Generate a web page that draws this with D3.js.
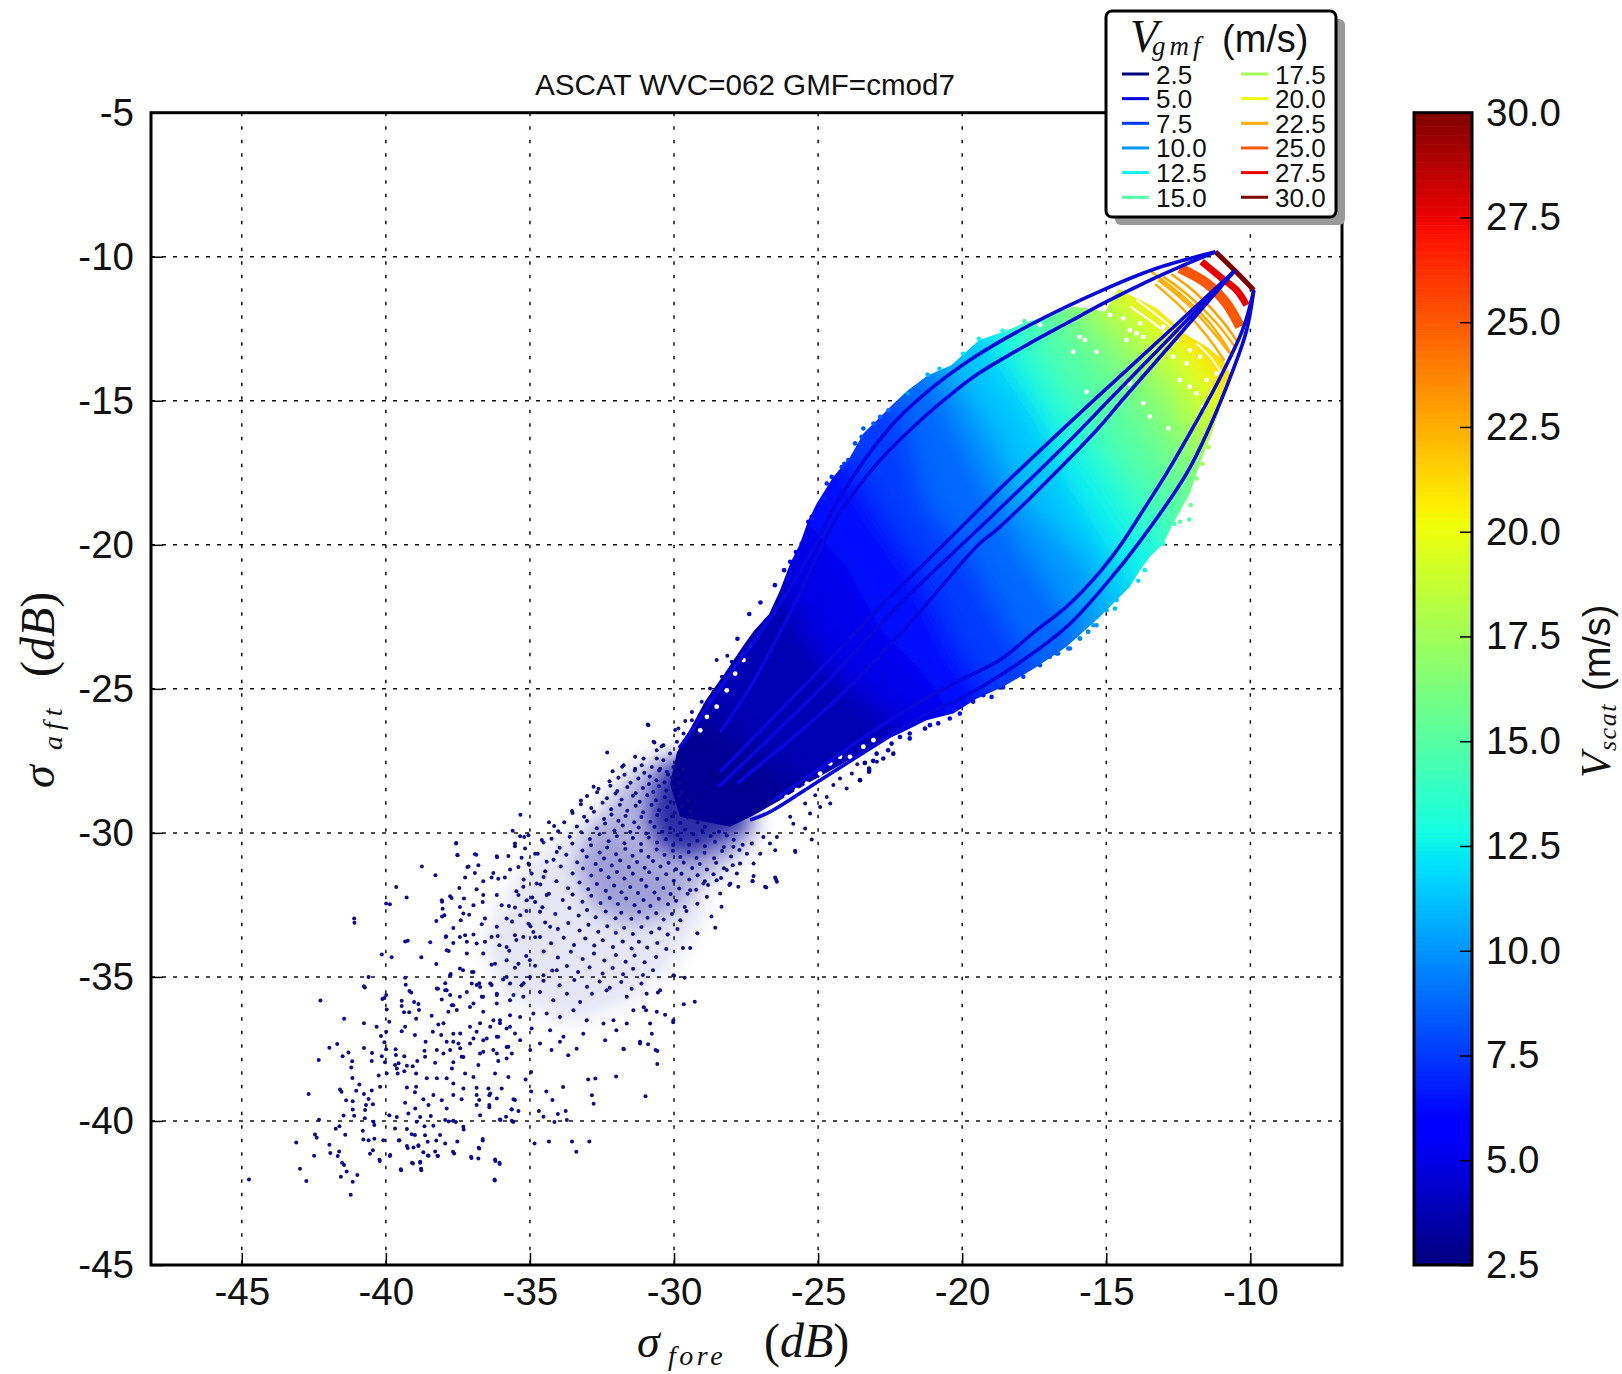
<!DOCTYPE html>
<html><head><meta charset="utf-8">
<script src="https://cdn.jsdelivr.net/npm/d3@7"></script>
<style>html,body{margin:0;padding:0;background:#fff}svg{display:block}</style></head>
<body><div id="chart"></div>
<script>
const chartTitle = "ASCAT WVC=062 GMF=cmod7";
const xTicks = [-45,-40,-35,-30,-25,-20,-15,-10];
const yTicks = [-5,-10,-15,-20,-25,-30,-35,-40,-45];
const cbarTicks = [2.5,5,7.5,10,12.5,15,17.5,20,22.5,25,27.5,30];
const legendSpeeds = [2.5,5,7.5,10,12.5,15,17.5,20,22.5,25,27.5,30];

// Filled body of the scatter cloud (sigma fore, sigma aft in dB)
const cloudOutline = [[-29.9,-27.2],[-29.5,-26.5],[-28.9,-25.4],[-28.2,-24.4],[-27.6,-23.5],[-27.24,-23.0],[-26.7,-22.4],[-26.32,-21.58],[-25.97,-20.65],[-25.63,-19.96],[-25.34,-19.15],[-25.05,-18.57],[-24.47,-17.64],[-23.89,-16.95],[-23.43,-16.14],[-22.85,-15.56],[-22.39,-15.1],[-21.89,-14.64],[-21.2,-14.12],[-20.38,-13.77],[-19.42,-12.9],[-18.46,-12.56],[-17.77,-12.27],[-16.81,-11.98],[-16.15,-11.73],[-15.68,-11.79],[-15.05,-11.91],[-14.58,-11.1],[-14.18,-11.33],[-13.25,-11.79],[-12.79,-12.2],[-12.21,-12.72],[-11.52,-13.12],[-10.94,-13.59],[-10.71,-14.05],[-10.94,-14.63],[-11.1,-15.4],[-11.29,-16.02],[-11.75,-17.18],[-12.1,-18.22],[-12.68,-19.26],[-13.02,-19.96],[-13.49,-20.42],[-13.83,-20.88],[-14.18,-21.46],[-14.64,-21.92],[-15.22,-22.5],[-16.38,-23.54],[-17.42,-24.24],[-18.58,-24.93],[-19.5,-25.34],[-20.31,-25.86],[-21.24,-26.09],[-22.16,-26.55],[-22.97,-26.9],[-23.55,-27.25],[-24.35,-27.71],[-25.39,-28.29],[-26.32,-28.87],[-27.24,-29.39],[-28.05,-29.79],[-29.79,-29.44],[-30.14,-28.29]];

// Speed contours: level in m/s and its path
const isoLevels = [3.75,5,6.25,7.5,8.75,10,11.25,12.5,13.75,15,16.25,17.5,18.75,20,21.25];
const iso375 = [[-29.5,-25.5],[-28.2,-26.3],[-27,-27.3],[-25.5,-28.3],[-24.8,-29]];
const iso500 = [[-26.6,-20.8],[-26.2,-21.2],[-25.5,-22.8],[-24.5,-24.4],[-23,-25.5],[-22,-26.5],[-21.8,-27.2]];
const iso625 = [[-25.7,-18.7],[-25.3,-19.3],[-24,-20.8],[-22.8,-23],[-21.5,-24.3],[-20.8,-25.2],[-20.4,-26.2]];
const iso750 = [[-24.4,-16.6],[-23.6,-17.6],[-22.9,-18.8],[-21.5,-20.8],[-20.2,-23.5],[-19.4,-24.6],[-19,-25.6]];
const iso875 = [[-22.6,-14.8],[-22.1,-15.4],[-21.3,-18.45],[-19.6,-20.6],[-18.5,-22.7],[-17.7,-23.9],[-17.3,-24.7]];
const iso1000 = [[-21.5,-13.9],[-20.8,-14.6],[-19.5,-17.2],[-18,-19.9],[-16.7,-21.8],[-15.9,-23.3],[-15.5,-23.9]];
const iso1125 = [[-20.7,-13.4],[-20.2,-14.1],[-18.8,-16.2],[-17.8,-18.4],[-15.6,-20.7],[-15.1,-22.4],[-14.6,-23]];
const iso1250 = [[-19.4,-12.7],[-19,-13.3],[-17.3,-15.8],[-16.25,-18.1],[-14.6,-20.6],[-13.9,-21.8],[-13.6,-22.3]];
const iso1375 = [[-18.6,-12.3],[-18.3,-13],[-16.66,-15.62],[-15.29,-17.36],[-13.5,-20.13],[-13,-20.7]];
const iso1500 = [[-17.6,-11.8],[-17.4,-12.5],[-15.97,-14.81],[-14.74,-16.66],[-12.81,-19.21],[-12.3,-19.7]];
const iso1625 = [[-16.7,-11.4],[-16.5,-12.1],[-15.01,-13.88],[-13.78,-15.74],[-12.26,-18.05],[-11.7,-18.6]];
const iso1750 = [[-16,-11.4],[-15.8,-11.84],[-14.29,-13.4],[-13.05,-14.91],[-11.95,-16.99],[-11.4,-17.5]];
const iso1875 = [[-15.4,-11.1],[-15.2,-11.55],[-13.9,-12.83],[-12.7,-14.22],[-11.8,-15.95],[-11.3,-16.5]];
const iso2000 = [[-14.6,-10.9],[-14.43,-11.32],[-13.3,-12.48],[-12.1,-13.87],[-11.3,-15.14],[-10.7,-15.7]];
const iso2125 = [[-13.9,-11.4],[-12.9,-12.2],[-11.8,-13.4],[-11.1,-14.3],[-10.7,-14.9]];
const isoPaths = [iso375,iso500,iso625,iso750,iso875,iso1000,iso1125,iso1250,iso1375,iso1500,iso1625,iso1750,iso1875,iso2000,iso2125];
const cloudBaseSpeed = 3;

// Bright arcs at the high speed end
const arc225a = [[-13.43,-10.52],[-12.33,-11.39],[-11.4,-12.31],[-10.6,-13.47]];
const arc225b = [[-13.02,-10.69],[-12.1,-11.39],[-11.17,-12.31],[-10.54,-13.12]];
const arc225c = [[-13.2,-10.81],[-12.21,-11.62],[-11.35,-12.55],[-10.71,-13.36]];
const arc225d = [[-13.3,-10.95],[-12.35,-11.8],[-11.55,-12.7],[-10.9,-13.6]];
const arc225e = [[-12.75,-10.6],[-11.9,-11.25],[-11,-12.2],[-10.45,-12.95]];
const arc25 = [[-12.45,-10.4],[-11.52,-10.92],[-10.83,-11.62],[-10.36,-12.43]];
const arc275 = [[-11.69,-10.17],[-11.06,-10.69],[-10.48,-11.16],[-10.13,-11.68]];
const arc30 = [[-11.21,-9.83],[-10.54,-10.48],[-9.88,-11.16]];

// GMF direction curves
const curveUpperOuter = [[-11.21,-9.83],[-13.25,-10.4],[-14.99,-11.1],[-17.65,-12.37],[-19.6,-13.5],[-21.29,-14.75],[-22.5,-15.91],[-24.24,-18.34],[-25.1,-20],[-26.1,-21.7],[-27.24,-23.37],[-28.05,-24.47],[-29.38,-26.43],[-29.8,-27.03]];
const curveUpperInner = [[-11.21,-9.83],[-12.45,-10.35],[-13.6,-10.87],[-14.99,-11.56],[-16.38,-12.31],[-17.65,-13.0],[-19.5,-14.1],[-20.54,-14.9],[-21.69,-15.9],[-22.85,-17.06],[-23.78,-18.22],[-24.47,-19.26],[-24.99,-20.3],[-25.74,-21.9],[-26.56,-23.5],[-27.39,-25.0],[-28.4,-26.5]];
const curveLowerOuter = [[-9.88,-11.16],[-10.13,-12.55],[-10.6,-13.93],[-11.46,-16.02],[-12.21,-17.52],[-13.89,-19.96],[-15.0,-21.35],[-16.38,-22.85],[-18.58,-24.47],[-20.08,-25.35],[-21.4,-25.95],[-22.85,-26.85],[-24.93,-28.17],[-26.67,-29.27],[-27.36,-29.55]];
const curveLowerInner = [[-9.88,-11.16],[-10.25,-12.49],[-11.05,-14.2],[-12.04,-16.02],[-12.91,-17.52],[-13.72,-18.8],[-14.47,-19.96],[-15.22,-20.94],[-16.38,-22.15],[-17.42,-22.96],[-18.69,-24.0],[-20.08,-24.7],[-21.2,-25.3],[-23,-26.4],[-25,-27.8],[-26.6,-28.9]];
const curveCentreA = [[-10.54,-10.48],[-13,-12.75],[-15.43,-14.98],[-16.55,-16.02],[-18.69,-18.05],[-20.65,-20],[-22.85,-22.16],[-25,-24.4],[-28.4,-27.88]];
const curveCentreB = [[-10.54,-10.48],[-12.8,-12.82],[-14.91,-14.98],[-15.91,-16.02],[-18.69,-18.74],[-20.02,-20],[-22.27,-22.16],[-24.93,-25],[-28.46,-28.4]];
const curveCentreC = [[-10.54,-10.48],[-12.5,-12.75],[-14.45,-14.98],[-15.34,-16.02],[-18.69,-19.38],[-19.44,-20],[-21.93,-22.85],[-24.4,-25.4],[-27.82,-28.29]];

// Blank specks inside the cloud
const blankSpecks = [[-13.95,-12.66],[-13.72,-12.78],[-14.18,-12.55],[-15.92,-12.78],[-15.74,-12.89],[-15.34,-13.3],[-16.15,-13.3],[-14.87,-12.02],[-14.41,-12.14],[-13.49,-11.33],[-12.68,-13.47],[-12.1,-13.24],[-12.45,-14.28],[-12.1,-14.51],[-14.18,-14.4],[-13.72,-15.09],[-13.49,-15.55],[-12.85,-15.96],[-11.64,-15.21],[-11.4,-12.66],[-11.75,-13.47],[-13.02,-12.43],[-12.56,-12.89],[-12.21,-13.7],[-11.52,-14.28],[-11.17,-14.05],[-11.87,-14.74],[-15.68,-14.69],[-17.3,-12.37],[-13.25,-13.24],[-13.83,-12.31],[-14.3,-12.89],[-24.24,-27.36],[-23.89,-27.36],[-23.43,-27.01],[-23.08,-26.78],[-24.93,-27.94],[-25.39,-28.29],[-26.09,-28.75],[-25.74,-28.52],[-24.58,-27.59],[-28.52,-25.62],[-28.86,-25.97],[-28.17,-25.05],[-27.59,-24],[-27.88,-24.47],[-29.09,-26.44]];
const blankArcA = [[-14.18,-11.73],[-13.49,-12.2],[-12.91,-12.66]];
const blankArcB = [[-13.95,-11.5],[-13.25,-12.02],[-12.68,-12.49]];
const blankArcC = [[-11.87,-13.01],[-11.4,-13.47],[-11,-14.05]];

// Coloured dots on the rim of the cloud: fore, aft, speed
const rimDots = [[-27.39,-22.4,4.5],[-27.8,-23.26,4.3],[-26.5,-21.4,4.8],[-27.0,-22.0,4.6],[-24.09,-17.19,7.6],[-21.89,-14.76,10],[-21.2,-14.09,11],[-20.79,-13.89,11.5],[-19.97,-13.37,12],[-19.42,-12.85,12.5],[-18.6,-12.56,13.5],[-17.84,-12.23,14.5],[-11.45,-16.61,18],[-11.66,-17.19,17.5],
[-12.12,-19.12,15],[-12.44,-19.2,15],[-12.64,-19.28,14.5],[-12.07,-18.62,15.5],[-11.87,-17.7,16.5],[-13.43,-20.01,13],[-13.02,-19.96,13.5],[-13.89,-21.25,12],[-13.66,-20.88,12.5],[-14.64,-21.92,11],[-14.7,-22.21,11],[-14.99,-22.27,10.5],[-15.34,-22.79,10],[-15.63,-23.02,10],[-15.91,-23.25,9.5],[-16.32,-23.6,9],[-16.67,-23.77,9],[-16.96,-23.89,8.5],
[-22.56,-15.33,9],[-22.85,-15.56,8.7],[-23.08,-15.79,8.5],[-23.43,-15.96,8.3],[-23.49,-16.25,8],[-23.72,-16.48,8],[-23.95,-17.06,7.7],[-24.18,-17.3,7.5],[-24.53,-17.64,7],[-24.7,-17.87,7],[-24.76,-18.39,6.8],[-25.22,-19.03,6.2],[-25.34,-19.2,6],[-25.57,-19.96,5.8],[-25.77,-20.25,5.5],[-25.97,-20.59,5.2],[-26.18,-20.88,5],[-26.03,-21.17,5],
[-15.45,-22.79,10],[-15.63,-23.02,9.7],[-15.92,-23.25,9.5],[-16.26,-23.6,9],[-16.73,-23.77,8.5],[-17.3,-24.18,8],[-17.88,-24.58,7.5],[-18.58,-24.95,7],[-18.98,-25.28,6.5],[-19.27,-25.22,6.5],[-19.62,-25.45,6],[-20.08,-25.86,6],[-20.43,-26.03,5.5],[-20.83,-26.2,5.2],[-21.29,-26.38,5],[-21.12,-26.26,5],[-21.82,-26.55,4.6],[-21.82,-26.72,4.6],[-22.16,-26.67,4.5],[-22.45,-26.9,4.2],[-22.57,-27.13,4],[-22.39,-27.25,3.8],[-22.74,-27.42,3.6],[-22.97,-27.25,3.8],[-23.09,-27.5,3.4],[-23.38,-27.57,3.4],[-23.23,-27.77,3.3],[-23.23,-27.88,3.3],[-23.55,-28.17,3]];

// Density of the low speed tail, where the dots merge
const tailCore = [[-29.9,-27.2],[-30.7,-28.3],[-30.9,-29.6],[-30.4,-30.6],[-29.4,-30.8],[-28.3,-30.3],[-27.4,-29.7],[-27.3,-29.3]];
const tailMid = [[-30.4,-27.3],[-31.6,-28],[-32.8,-29.7],[-33.4,-31.2],[-32.8,-32.6],[-31.5,-33.2],[-30.2,-32.8],[-28.7,-31.6],[-27.5,-30.6],[-27,-29.6]];
const tailOuter = [[-33,-29.4],[-35.2,-31.2],[-36.6,-33.6],[-36,-35.6],[-33.5,-36.6],[-31.5,-35.8],[-30,-34.5],[-28.8,-32.6]];

// Dots of the densest part of the tail
const tailDense = [[-32.13,-27.86],[-31.72,-27.98],[-31.03,-27.91],[-30.84,-28.04],[-30.52,-27.83],[-30.21,-27.97],[-29.93,-28.02],[-29.68,-27.79],[-32.24,-28.21],[-31.93,-28.09],[-31.51,-28.26],[-31.24,-28.11],[-30.87,-28.3],[-30.61,-28.17],[-30.33,-28.24],[-30.07,-28.09],[-29.82,-28.28],[-32.62,-28.47],[-32.21,-28.36],[-31.97,-28.55],[-31.62,-28.41],[-31.33,-28.62],[-31.08,-28.44],[-30.72,-28.58],[-30.53,-28.38],[-30.27,-28.53],[-30.02,-28.42],[-29.72,-28.6],[-33.02,-28.72],[-32.67,-28.59],[-32.33,-28.8],[-32.03,-28.63],[-31.82,-28.84],[-31.43,-28.71],[-31.19,-28.92],[-30.93,-28.69],[-30.63,-28.87],[-30.32,-28.76],[-30.12,-28.93],[-29.83,-28.71],[-29.52,-28.88],[-33.23,-29.01],[-32.87,-29.14],[-32.48,-28.95],[-32.18,-29.18],[-31.88,-29.02],[-31.62,-29.23],[-31.33,-29.06],[-31.07,-29.28],[-30.78,-29.03],[-30.52,-29.21],[-30.23,-29.11],[-29.98,-29.3],[-29.72,-29.08],[-29.43,-29.24],[-33.52,-29.31],[-33.12,-29.44],[-32.78,-29.27],[-32.43,-29.52],[-32.17,-29.36],[-31.93,-29.58],[-31.68,-29.41],[-31.38,-29.63],[-31.13,-29.45],[-30.82,-29.61],[-30.58,-29.38],[-30.27,-29.55],[-30.07,-29.42],[-29.78,-29.66],[-29.52,-29.47],[-29.18,-29.63],[-28.93,-29.79],[-33.81,-29.63],[-33.37,-29.78],[-33.02,-29.59],[-32.68,-29.84],[-32.39,-29.67],[-32.07,-29.92],[-31.78,-29.74],[-31.52,-29.97],[-31.23,-29.81],[-30.97,-30.02],[-30.68,-29.79],[-30.41,-29.96],[-30.13,-29.83],[-29.88,-30.07],[-29.62,-29.88],[-29.33,-30.04],[-29.02,-29.92],[-28.73,-30.11],[-28.44,-29.96],[-28.17,-30.09],
[-34.02,-29.94],[-33.62,-30.13],[-33.22,-29.98],[-32.92,-30.21],[-32.58,-30.05],[-32.27,-30.29],[-31.98,-30.12],[-31.72,-30.36],[-31.43,-30.18],[-31.14,-30.39],[-30.88,-30.16],[-30.59,-30.33],[-30.28,-30.22],[-30.03,-30.42],[-29.77,-30.23],[-29.47,-30.41],[-29.19,-30.27],[-28.93,-30.46],[-28.58,-30.31],[-28.27,-30.49],[-27.93,-30.24],[-27.62,-30.41],[-34.53,-30.33],[-33.97,-30.52],[-33.53,-30.37],[-33.18,-30.61],[-32.88,-30.43],[-32.58,-30.68],[-32.32,-30.51],[-32.01,-30.74],[-31.69,-30.56],[-31.44,-30.79],[-31.14,-30.62],[-30.89,-30.83],[-30.6,-30.58],[-30.33,-30.76],[-30.04,-30.62],[-29.78,-30.84],[-29.49,-30.66],[-29.22,-30.87],[-28.94,-30.69],[-28.61,-30.88],[-28.33,-30.63],[-28.02,-30.82],[-27.73,-30.59],[-34.73,-30.72],[-34.18,-30.93],[-33.74,-30.76],[-33.36,-31.02],[-33.03,-30.83],[-32.72,-31.08],[-32.43,-30.89],[-32.16,-31.13],[-31.87,-30.96],[-31.57,-31.18],[-31.28,-31.01],[-31.02,-31.21],[-30.73,-30.98],[-30.47,-31.17],[-30.19,-31.04],[-29.93,-31.26],[-29.66,-31.03],[-29.37,-31.22],[-29.11,-31.08],[-28.86,-31.27],[-28.54,-31.04],[-28.27,-31.23],[-27.96,-31.12],
[-35.03,-31.11],[-34.47,-31.33],[-33.93,-31.17],[-33.52,-31.41],[-33.16,-31.24],[-32.87,-31.48],[-32.54,-31.29],[-32.27,-31.54],[-31.98,-31.36],[-31.72,-31.58],[-31.43,-31.42],[-31.13,-31.63],[-30.86,-31.37],[-30.58,-31.59],[-30.27,-31.44],[-30.01,-31.66],[-29.74,-31.42],[-29.47,-31.62],[-29.18,-31.47],[-28.93,-31.68],[-28.63,-31.44],[-28.37,-31.57],[-35.22,-31.62],[-34.64,-31.79],[-34.08,-31.68],[-33.68,-31.92],[-33.28,-31.72],[-32.98,-31.96],[-32.68,-31.77],[-32.37,-32.01],[-32.08,-31.83],[-31.82,-32.06],[-31.52,-31.88],[-31.25,-32.09],[-30.97,-31.85],[-30.68,-32.07],[-30.37,-31.91],[-30.12,-32.12],[-29.82,-31.93],[-29.53,-32.11],[-29.23,-31.97],[-35.47,-32.03],[-34.92,-32.24],[-34.34,-32.11],[-33.86,-32.33],[-33.52,-32.14],[-33.18,-32.39],[-32.87,-32.18],[-32.55,-32.43],[-32.23,-32.26],[-31.95,-32.47],[-31.66,-32.28],[-31.37,-32.51],[-31.06,-32.33],[-30.82,-32.54],[-30.53,-32.29],[-30.21,-32.48],[-29.93,-32.36],[-29.63,-32.57],[-35.73,-32.54],[-35.12,-32.71],[-34.57,-32.58],[-34.12,-32.82],[-33.63,-32.61],[-33.31,-32.87],[-33.02,-32.68],[-32.72,-32.93],[-32.37,-32.73],[-32.03,-32.96],[-31.83,-32.77],[-31.48,-32.98],[-31.21,-32.74],[-30.92,-32.95],[-30.62,-32.79],[-30.36,-33.01],[-30.07,-32.82],[-29.78,-33.03],
[-35.62,-33.08],[-34.98,-33.24],[-34.47,-33.11],[-34.03,-33.34],[-33.67,-33.13],[-33.28,-33.39],[-32.97,-33.19],[-32.63,-33.43],[-32.32,-33.24],[-32.02,-33.47],[-31.73,-33.29],[-31.43,-33.51],[-31.13,-33.27],[-30.79,-33.46],[-30.51,-33.32],[-30.22,-33.53],[-29.88,-33.34],[-36.12,-33.58],[-35.47,-33.72],[-34.82,-33.62],[-34.27,-33.83],[-33.83,-33.64],[-33.47,-33.89],[-33.08,-33.67],[-32.77,-33.91],[-32.47,-33.73],[-32.12,-33.96],[-31.78,-33.77],[-31.47,-34.01],[-31.22,-33.78],[-30.93,-33.98],[-30.58,-33.82],[-30.27,-34.03],[-35.72,-34.09],[-35.13,-34.27],[-34.52,-34.12],[-34.03,-34.33],[-33.58,-34.13],[-33.17,-34.38],[-32.78,-34.19],[-32.42,-34.43],[-32.02,-34.24],[-31.68,-34.47],[-31.37,-34.26],[-31.02,-34.49],[-30.62,-34.31],[-36.33,-34.58],[-35.52,-34.68],[-34.82,-34.61],[-34.23,-34.78],[-33.72,-34.62],[-33.33,-34.83],[-32.93,-34.66],[-32.48,-34.88],[-32.13,-34.69],[-31.77,-34.91],[-31.42,-34.72],[-31.08,-34.93],[-30.73,-34.77],[-35.93,-35.09],[-35.22,-35.22],[-34.53,-35.13],[-33.97,-35.29],[-33.46,-35.11],[-33.02,-35.34],[-32.58,-35.16],[-32.23,-35.38],[-31.83,-35.18],[-31.47,-35.41],[-31.13,-35.23]];

// Individual dots of the tail
const tailDots = [[-40.76,-35.32],[-42.27,-35.82],[-41.45,-36.45],[-40.76,-36.61],[-40.32,-36.73],[-41.96,-37.46],[-41.69,-37.33],[-41.3,-37.62],[-41.5,-37.75],[-42.33,-37.88],[-40.76,-37.47],[-40.48,-37.64],[-40.49,-37.92],[-41.17,-37.93],[-41.2,-38.14],[-41.16,-38.51],[-40.25,-38.42],[-42.68,-39.06],[-41.59,-38.91],[-41.54,-38.99],[-40.92,-38.73],[-41.03,-38.95],[-40.76,-39.06],[-40.49,-38.94],[-40.2,-38.81],[-41.38,-39.28],[-41.15,-39.32],[-40.6,-39.24],[-40.69,-39.45],[-40.45,-39.42],[-41.15,-39.6],[-40.72,-39.62],[-41.1,-39.82],[-41.47,-39.81],[-42.32,-39.96],[-40.73,-39.91],[-40.43,-40.03],[-40.4,-40.14],[-41.61,-40.18],[-41.74,-40.27],[-40.8,-40.34],[-41.41,-40.48],[-42.46,-40.47],[-42.4,-40.58],[-43.11,-40.75],[-41.96,-40.83],[-40.78,-40.64],[-40.6,-40.67],[-40.4,-40.62],[-40.09,-40.67],[-42.49,-41.21],[-41.93,-41.11],[-41.62,-41.06],[-41.67,-41.22],[-40.45,-41.02],[-40.55,-41.14],[-40.22,-41.35],[-41.52,-41.45],[-41.45,-41.53],[-42.98,-41.66],[-41.36,-41.75],[-40.99,-41.88],[-41.56,-41.94],[-42.76,-42.08],[-41.15,-42.11],[-41.22,-42.56],[-44.75,-42.03],
[-39.97,-36.13],[-40.12,-35.77],[-39.99,-35.63],[-39.45,-35.83],[-39.45,-36.01],[-39.37,-36.23],[-39.19,-36.23],[-38.95,-36.45],[-39.02,-35.87],[-38.87,-35.94],[-38.85,-36.15],[-39.18,-35.49],[-39.31,-35.27],[-39.88,-36.56],[-39.33,-36.73],[-39.45,-36.89],[-39.99,-36.9],[-40.17,-37.05],[-40.05,-37.27],[-38.99,-37.02],[-39.99,-37.51],[-39.66,-37.51],[-39.65,-37.71],[-39.36,-37.75],[-40.14,-37.75],[-40.03,-37.96],[-39.68,-38.06],[-39.56,-38.0],[-39.62,-38.18],[-39.27,-38.08],[-39.07,-38.1],[-38.91,-37.92],[-39.36,-38.27],[-39.59,-38.35],[-39.97,-38.35],[-38.95,-38.35],[-38.64,-37.77],[-38.66,-37.56],[-38.62,-37.25],[-38.41,-36.35],[-38.18,-36.65],[-38.0,-36.61],[-38.37,-36.9],[-38.08,-37.02],
[-37.56,-30.35],[-37.52,-30.77],[-36.91,-30.74],[-36.15,-30.81],[-35.75,-30.8],[-35.6,-29.93],[-35.34,-30.12],[-35.05,-30.08],[-35.17,-30.54],[-35.52,-30.46],[-35.29,-30.86],[-34.82,-30.72],[-34.59,-30.25],[-34.25,-30.2],[-34.07,-30.66],[-34.42,-31.0],[-35.05,-31.06],[-35.4,-31.18],[-35.69,-31.27],[-36.79,-31.12],[-37.17,-31.18],[-36.91,-31.39],[-37.25,-31.55],[-36.27,-31.39],[-36.33,-31.55],[-36.1,-31.59],[-35.87,-31.55],[-36.62,-31.68],[-37.45,-31.91],[-36.85,-31.96],[-36.62,-32.16],[-37.29,-32.28],[-37.77,-32.2],[-38.06,-32.34],[-36.64,-32.4],[-36.96,-32.51],[-37.43,-32.57],[-38.03,-32.63],[-37.31,-32.8],[-37.11,-32.84],[-37.97,-32.86],[-37.4,-33.03],[-36.56,-32.97],[-36.67,-33.17],[-37.66,-33.3],[-37.25,-33.55],[-36.96,-33.53],[-37.91,-33.59],[-37.43,-33.61],[-36.33,-33.61],[-36.56,-33.78],[-36.85,-33.84],[-37.66,-33.82],[-37.19,-33.78],[-37.89,-34.07],[-36.06,-33.9],[-35.81,-33.96],[-36.15,-33.26],[-35.81,-32.97],[-35.98,-32.51],[-36.15,-32.16],[-35.52,-32.59],[-35.34,-32.86],[-35.4,-32.16],[-35.11,-32.34],[-35.23,-31.87],[-34.77,-31.76],[-34.94,-31.41],[-34.53,-31.53],[-34.42,-32.16],[-34.82,-32.4],[-34.65,-32.74],[-35.05,-33.15],[-34.88,-33.44],[-35.23,-33.61],[-35.52,-33.55],[-34.65,-33.61],[-34.3,-33.26],[-35,-34.42],[-35.4,-34.54],[-35.81,-34.42],[-36.21,-34.54],[-36.62,-34.19],[-37.19,-34.19],[-37.43,-34.71],[-37.77,-34.94],[-36.96,-34.83],[-36.38,-35.23],[-35.81,-35.0],[-35.29,-35.29],[-35,-35],[-34.53,-34.94],[-34.07,-34.77],
[-37.89,-35.46],[-37.43,-35.69],[-37.02,-35.23],[-36.73,-35.35],[-37.66,-35.98],[-37.08,-36.04],[-36.62,-35.69],[-36.15,-35.58],[-35.69,-35.81],[-35.23,-35.69],[-34.65,-35.52],[-34.19,-35.81],[-33.72,-35.58],[-33.26,-35.87],[-32.85,-35.58],[-32.34,-35.46],[-31.64,-35.69],[-30.95,-35.58],[-30.48,-35.46],[-30.02,-34.94],[-36.62,-36.21],[-36.04,-36.5],[-36.38,-36.73],[-35.69,-36.73],[-35.34,-36.39],[-34.88,-36.27],[-34.42,-36.27],[-33.96,-36.39],[-33.49,-36.16],[-33.03,-36.5],[-32.45,-36.62],[-32.1,-36.5],[-31.64,-36.62],[-30.97,-36.16],[-30.6,-36.21],[-30.02,-36.5],[-30.83,-36.62],[-31.41,-36.16],[-37.66,-36.97],[-37.08,-36.73],[-37.48,-37.31],[-36.96,-37.14],[-36.62,-37.2],[-36.1,-37.08],[-35.81,-37.43],[-35.34,-37.2],[-34.94,-36.79],[-34.3,-36.85],[-33.84,-37.08],[-33.15,-36.97],[-32.39,-37.2],[-32,-36.85],[-30.77,-36.97],[-31.18,-37.25],[-33.96,-37.25],[-33.67,-37.72],[-34.65,-37.31],[-34.99,-37.54],[-35.63,-37.66],[-36.15,-37.66],[-36.73,-37.66],[-37.31,-37.78],[-37.77,-37.54],[-34.25,-37.54],[-33.38,-37.49],[-31.76,-37.49],[-30.64,-37.54],
[-30.99,-39.14],[-32.01,-38.46],[-30.58,-38.02],[-30.58,-37.57],[-31.74,-37.51],[-31.18,-37.31],[-30.9,-37.34],[-32.94,-40.71],[-33.54,-40.71],[-33.39,-41.07],[-34.34,-40.71],[-34.84,-40.78],[-36.22,-42.07],[-36.05,-41.49],[-36.2,-41.39],[-36.64,-40.68],[-36.76,-40.96],[-37.03,-41.29],[-32.79,-39.4],[-32.85,-39.11],[-32.73,-38.53],[-32.98,-38.56],[-33.85,-38.82],[-33.76,-39.65],[-33.72,-39.97],[-34.03,-39.76],[-34.53,-39.85],[-34.69,-39.65],[-34.15,-40.04],[-34.22,-39.27],[-34.43,-38.98],[-34.96,-38.98],[-35.15,-38.56],[-34.96,-38.3],[-35.58,-40.04],[-35.83,-39.85],[-36.02,-39.97],[-35.4,-39.65],[-35.64,-39.59],[-35.52,-39.27],[-36.41,-39.11],[-36.41,-39.52],[-36.76,-39.27],[-37.3,-40.3],[-37.57,-40.04],[-37.82,-40.02],[-38.19,-41.22],[-37.63,-41.13],[-38.25,-40.68],[-38.81,-41.45],[-39.06,-41.48],[-39.47,-41.71],[-38.77,-41.71],[-38.54,-41.2],[-38.87,-40.87],[-39.24,-40.94],[-38.99,-40.49],[-39.55,-40.68],[-39.86,-41.22],[-40.21,-41.39],
[-38.23,-35.4],[-37.94,-35.46],[-38.06,-35.78],[-37.77,-35.63],[-37.71,-35.98],[-37.54,-36.15],[-37.83,-36.21],[-37.19,-35.52],[-36.85,-35.28],[-36.67,-35.69],[-36.96,-35.92],[-36.33,-35.28],[-36.15,-35.63],[-35.69,-35.23],[-35.57,-35.63],[-36.15,-35.92],[-36.73,-36.61],[-36.27,-36.5],[-36.04,-36.61],[-35.69,-36.33],[-35.81,-36.79],[-35.52,-36.96],[-36.15,-37.08],[-36.5,-37.14],[-36.85,-36.9],[-37.42,-36.96],[-37.66,-37.25],[-37.08,-37.31],[-36.62,-37.6],[-36.27,-37.54],[-35.75,-37.42],[-35.81,-37.83],[-36.1,-37.92],[-36.79,-38.06],[-37.25,-38.35],[-36.96,-38.47],[-37.66,-37.96],[-37.71,-38.18],[-38,-37.66],[-38.29,-37.98],[-38.23,-37.54],[-37.89,-37.25],[-37.42,-37.48],[-37.37,-37.77],[-38.23,-38.52],[-38.58,-38.52],[-37.89,-38.52],[-37.66,-38.7],[-37.31,-38.87],[-36.85,-38.85],[-36.44,-38.87],[-35.98,-38.87],[-35.75,-38.47],[-36.21,-38.35],[-39.27,-38.84],[-38.95,-38.81],[-38.99,-39],[-38.7,-39.25],[-38.35,-39.1],[-38.06,-39.28],[-37.66,-39.1],[-37.37,-39.25],[-36.85,-39.1],[-36.38,-39.05],[-36.15,-39.22],[-35.57,-39.25],[-36.85,-39.45],[-36.41,-39.45],[-35.63,-39.6],[-37.89,-39.57],[-38.98,-39.57],[-39.33,-39.37],[-38.52,-39.45],[-39.22,-39.74],[-39.62,-39.86],[-39.88,-39.8],[-38.81,-39.86],[-38.93,-40.03],[-38.44,-39.83],[-37.94,-39.97],[-37.66,-39.99],[-37.31,-40.2],[-36.73,-39.8],[-36.04,-39.95],[-35.63,-39.99],[-39.68,-40.26],[-39.27,-40.28],[-38.66,-40.18],[-38.35,-40.17],[-39.1,-40.46],[-38.64,-40.5],[-38.12,-40.49],[-39.53,-40.67],[-38.55,-40.72],[-37.94,-40.78],[-37.52,-40.71],[-36.64,-40.63],[-39.27,-40.87],[-39.04,-40.92],[-38.87,-40.84],[-36.78,-40.93],[-38.7,-41.09],[-38.29,-41.06],[-37.67,-41.07],[-38.52,-41.21],[-38.21,-41.21],[-39.85,-41.18],[-37.04,-41.24],[-36.79,-41.3],[-36.21,-41.34],[-39.09,-41.45],[-38.81,-41.42],[-36.06,-41.45],[-39.48,-41.68],[-38.78,-41.66],[-36.23,-42.03],
[-38.75,-31.17],[-38.28,-31.47],[-39.64,-31.88],[-39.28,-32.24],[-41.1,-32.97],[-41.09,-33.12],[-39.99,-32.45],[-39.86,-32.48],[-39.24,-33.74],[-39.33,-33.77],[-40.14,-34.22],[-39.8,-34.32],[-38.77,-34.32],[-38.25,-34.55],[-38.46,-33.8],[-37.92,-33.61],[-38.25,-33.06],[-38.05,-32.9],[-38.05,-32.39],[-37.72,-32.26],[-37.82,-34.1],[-37.56,-30.37],[-37.51,-30.78],[-37.13,-31.17],[-36.86,-30.76],[-36.14,-30.85],[-35.33,-29.37],[-35.52,-30.37],[-35.2,-30.14],[-32.32,-27.21],[-30.89,-26.26],[-32.79,-28.4],[-33.23,-28.88],[-34.34,-29.63],[-34.16,-29.76],[-33.54,-29.24],[-31.8,-27.7],[-31.36,-27.83],[-30.68,-26.86],[-30.43,-26.99],[-40.6,-35],[-40.73,-35.37],[-39.33,-35.03],[-39.12,-35.54],[-38.19,-35.41],[-37.94,-35.22],[-37.75,-34.9],[-37.32,-34.77],[-37.01,-34.83],[-36.76,-35.22],[-40.05,-35.73],
[-28.52,-24],[-28.15,-23.85],[-28,-24.06],[-28.34,-24.58],[-28.75,-24.99],[-28.63,-25.1],[-29.04,-25.45],[-28.92,-25.57],[-29.38,-25.8],[-29.61,-26.12],[-29.38,-26.09],[-29.96,-26.43],[-29.85,-26.38],[-29.67,-26.55],[-30.91,-26.24],[-30.71,-26.84],[-30.37,-26.96],[-30.6,-27.13],[-29.9,-26.84],[-29.79,-27.01],[-31.35,-27.36],[-31.06,-27.42],[-30.6,-27.42],[-30.37,-27.48],[-30.14,-27.24],[-31.75,-27.65],[-31.12,-27.65],[-31.35,-27.77],[-30.77,-27.71],[-30.48,-27.77],[-30.25,-27.88],[-30.02,-27.71],
[-23.54,-28.17],[-23.22,-27.82],[-22.96,-27.53],[-23.37,-27.57],[-23.64,-27.62],[-23.83,-27.94],[-24.01,-28.46],[-24.24,-28.11],[-24.47,-28.34],[-24.58,-28.98],[-24.7,-28.75],[-24.93,-29.1],[-25.1,-28.69],[-25.28,-29.33],[-25.45,-28.98],[-25.45,-29.85],[-25.22,-30.23],[-25.86,-29.68],[-25.97,-29.44],[-25.8,-30.62],[-26.49,-30.6],[-26.43,-30.14],[-26.67,-30.37],[-26.9,-30.14],[-26.43,-31.7],[-26.49,-31.55],[-27.24,-31.5],[-27.28,-31.67],[-26.84,-31.87],[-27.24,-31.06],[-27.01,-30.72],[-27.47,-30.72],[-27.3,-30.37],[-27.71,-31.06],[-27.82,-31.41],[-28.05,-31.76],[-28.4,-32.1],[-28.86,-32.22],[-27.77,-31.87],[-28.17,-31.29],[-28.52,-31.64],[-28.98,-31.76],[-29.44,-31.99],[-27.94,-30.48],[-26.46,-31.62],[-26.8,-31.9],[-25.79,-30.66],[-28.57,-33.29],[-28.35,-32.56],[-28.7,-32.9],[-29.19,-33.48],[-29.63,-35.03],[-29.28,-35.86],[-29.66,-35.95],[-30,-34.96],[-29.44,-34],[-29.69,-34],[-30.56,-35.54],[-31.05,-36.05],[-30.31,-36.31],[-30.03,-36.57],[-28.08,-31.81],[-27.27,-31.68],[-29.57,-32.71],[-29.19,-32.46],[-28.82,-31.81]];

// ---- jet colour map ----
const jetR = d3.scaleLinear().domain([0,.35,.66,.89,1]).range([0,0,1,1,.5]);
const jetG = d3.scaleLinear().domain([0,.125,.375,.64,.91,1]).range([0,0,1,1,0,0]);
const jetB = d3.scaleLinear().domain([0,.11,.34,.65,1]).range([.5,1,1,0,0]);
const speedNorm = d3.scaleLinear().domain([2.5,30]).range([0,1]).clamp(true);
const jet = v => { const t = speedNorm(v); return d3.rgb(jetR(t)*255,jetG(t)*255,jetB(t)*255).formatHex(); };

const W=1622,H=1374, L=151,R=1342,T=112.7,B=1265;
const x = d3.scaleLinear().domain([-48.15,-6.82]).range([L,R]);
const y = d3.scaleLinear().domain([-45,-5]).range([B,T]);
const svg = d3.select("#chart").append("svg").attr("width",W).attr("height",H).attr("viewBox",[0,0,W,H]);
const defs = svg.append("defs");
function blurFilter(id,sd){ defs.append("filter").attr("id",id).attr("filterUnits","userSpaceOnUse").attr("x",0).attr("y",0).attr("width",W).attr("height",H).append("feGaussianBlur").attr("stdDeviation",sd); }
blurFilter("blurBands",13); blurFilter("blurTail",10);
const line = d3.line().x(d=>x(d[0])).y(d=>y(d[1]));
const curved = d3.line().x(d=>x(d[0])).y(d=>y(d[1])).curve(d3.curveCatmullRom.alpha(.5));
defs.append("clipPath").attr("id","cloudClip").append("path").attr("d",line(cloudOutline)+"Z");

const FONT = "'Liberation Sans',Arial,sans-serif", SERIF="'Liberation Serif',serif";

// grid
const grid = svg.append("g").attr("stroke","#111").attr("stroke-width",1.5);
grid.selectAll("line.v").data(xTicks).join("line").attr("class","v").attr("x1",d=>x(d)).attr("x2",d=>x(d)).attr("y1",T).attr("y2",B).attr("stroke-dasharray","3.5 10");
grid.selectAll("line.h").data(yTicks.slice(1,-1)).join("line").attr("class","h").attr("y1",d=>y(d)).attr("y2",d=>y(d)).attr("x1",L).attr("x2",R).attr("stroke-dasharray","4 7");

// tail density
const tailG = svg.append("g").attr("filter","url(#blurTail)").attr("fill",jet(3));
[[tailOuter,.1],[tailMid,.3],[tailCore,.75]].forEach(([p,o])=>tailG.append("path").attr("d",line(p)+"Z").attr("opacity",o));

// cloud
const cloudClip = svg.append("g").attr("clip-path","url(#cloudClip)");
const bands = cloudClip.append("g").attr("filter","url(#blurBands)");
bands.append("rect").attr("x",0).attr("y",0).attr("width",W).attr("height",H).attr("fill",jet(cloudBaseSpeed));
isoLevels.forEach((lv,i)=>{
  const p = isoPaths[i], first=p[0], last=p[p.length-1], xMax=x.domain()[1]+5, yMax=y.domain()[1]+5;
  const ring = [...p,[xMax,last[1]],[xMax,yMax],[first[0],yMax]];
  bands.append("path").attr("d",line(ring)+"Z").attr("fill",jet(lv));
});

// rim dots and dots of the tail
svg.append("g").selectAll("circle").data(tailDots.concat(tailDense)).join("circle").attr("cx",d=>x(d[0])).attr("cy",d=>y(d[1])).attr("r",2).attr("fill","#0c0c8e");
svg.append("g").selectAll("circle").data(rimDots).join("circle").attr("cx",d=>x(d[0])).attr("cy",d=>y(d[1])).attr("r",2.3).attr("fill",d=>jet(d[2]));

// blank specks
svg.append("g").selectAll("circle").data(blankSpecks).join("circle").attr("cx",d=>x(d[0])).attr("cy",d=>y(d[1])).attr("r",2.4).attr("fill","#fff");
[blankArcA,blankArcB,blankArcC].forEach(a=>svg.append("path").attr("d",curved(a)).attr("fill","none").attr("stroke","#fff").attr("stroke-width",2));

// high speed arcs
const arcs = [[arc225a,22.5,2.5],[arc225b,22.5,2.5],[arc225c,22.5,2.5],[arc225d,22.5,2.5],[arc225e,22.8,2.5],[arc25,25,10],[arc275,27.5,7],[arc30,30,5]];
svg.append("g").attr("fill","none").selectAll("path").data(arcs).join("path").attr("d",d=>curved(d[0])).attr("stroke",d=>jet(d[1])).attr("stroke-width",d=>d[2]);

// GMF curves
const curves = [curveUpperOuter,curveUpperInner,curveLowerOuter,curveLowerInner,curveCentreA,curveCentreB,curveCentreC];
svg.append("g").attr("fill","none").attr("stroke","#0808dc").attr("stroke-width",3.6).attr("stroke-linejoin","round")
  .selectAll("path").data(curves).join("path").attr("d",d=>curved(d));

// axes
const xAxis = d3.axisBottom(x).tickValues(xTicks).tickSize(-12).tickPadding(13);
const yAxis = d3.axisLeft(y).tickValues(yTicks).tickSize(-12).tickPadding(17);
const ax = svg.append("g").attr("transform",`translate(0,${B})`).call(xAxis);
const ay = svg.append("g").attr("transform",`translate(${L},0)`).call(yAxis);
[ax,ay].forEach(a=>{a.select(".domain").remove();a.selectAll("line").attr("stroke","#000").attr("stroke-width",1.5);
  a.selectAll("text").attr("font-family",FONT).attr("font-size",38.5).attr("fill","#111").text(d=>String(d));});
svg.append("rect").attr("x",L).attr("y",T).attr("width",R-L).attr("height",B-T).attr("fill","none").attr("stroke","#000").attr("stroke-width",3);
svg.append("text").attr("x",745).attr("y",95).attr("text-anchor","middle").attr("font-family",FONT).attr("font-size",29.6).attr("fill","#111").text(chartTitle);

// colour bar
const cbX=1414,cbW=58;
const cby = d3.scaleLinear().domain([2.5,30]).range([B,T]);
const cb = svg.append("g");
const cbStep = 27.5/256;
const cbSteps = d3.range(0,256).map(i=>2.5+cbStep*i);
cb.selectAll("rect").data(cbSteps).join("rect").attr("x",cbX).attr("width",cbW).attr("y",d=>cby(d+cbStep)).attr("height",d=>cby(d)-cby(d+cbStep)+.6).attr("fill",d=>jet(d));
cb.append("rect").attr("x",cbX).attr("y",T).attr("width",cbW).attr("height",B-T).attr("fill","none").attr("stroke","#000").attr("stroke-width",3);
const cbAxis = d3.axisRight(cby).tickValues(cbarTicks).tickFormat(d3.format(".1f")).tickSize(-12).tickPadding(14);
const cba = svg.append("g").attr("transform",`translate(${cbX+cbW},0)`).call(cbAxis);
cba.select(".domain").remove();
cba.selectAll("line").attr("stroke","#000").attr("stroke-width",1.5);
cba.selectAll("text").attr("font-family",FONT).attr("font-size",38.5).attr("fill","#111");

// axis labels
function mathLabel(parent, sym, sub, symFont, subFont, subOffset, subDrop, subSpace, tailOffset, tailFn){
  parent.append("text").attr("x",0).attr("y",0).attr("font-family",SERIF).attr("font-style","italic").attr("font-size",symFont).attr("fill","#111").text(sym);
  parent.append("text").attr("x",subOffset).attr("y",subDrop).attr("font-family",SERIF).attr("font-style","italic").attr("font-size",subFont).attr("letter-spacing",subSpace).attr("fill","#111").text(sub);
  tailFn(parent.append("text").attr("x",tailOffset).attr("y",0).attr("fill","#111"));
}
const dbTail = t=>{t.attr("font-family",SERIF).attr("font-size",48);t.append("tspan").text("(");t.append("tspan").attr("font-style","italic").text("dB");t.append("tspan").text(")");};
const msTail = t=>t.attr("font-family",FONT).attr("font-size",38).text("(m/s)");
mathLabel(svg.append("g").attr("transform","translate(637,1357)"),"σ","fore",46,28,31,8,3.5,127,dbTail);
mathLabel(svg.append("g").attr("transform","translate(54,788) rotate(-90)"),"σ","aft",46,28,38,8,6,111,dbTail);
mathLabel(svg.append("g").attr("transform","translate(1610,778) rotate(-90)"),"V","scat",42,26,27,6,1.5,87,msTail);

// legend
svg.append("rect").attr("x",1115).attr("y",19).attr("width",230).attr("height",206).attr("rx",6).attr("fill","#999");
svg.append("rect").attr("x",1106).attr("y",11).attr("width",230).attr("height",206).attr("rx",6).attr("fill","#fff").attr("stroke","#000").attr("stroke-width",3);
mathLabel(svg.append("g").attr("transform","translate(1130,52)"),"V","gmf",46,27,22,3,4,92,msTail);
const legCol = i=>i<6?0:1;
const leg = svg.append("g").selectAll("g").data(legendSpeeds).join("g")
  .attr("transform",(d,i)=>`translate(${legCol(i)?1241:1122},${74+(i%6)*24.65})`);
leg.append("line").attr("x1",0).attr("x2",27).attr("stroke",d=>jet(d)).attr("stroke-width",3);
leg.append("text").attr("x",34).attr("y",9.5).attr("font-family",FONT).attr("font-size",26).attr("fill","#111").text(d=>d3.format(".1f")(d));
</script></body></html>
